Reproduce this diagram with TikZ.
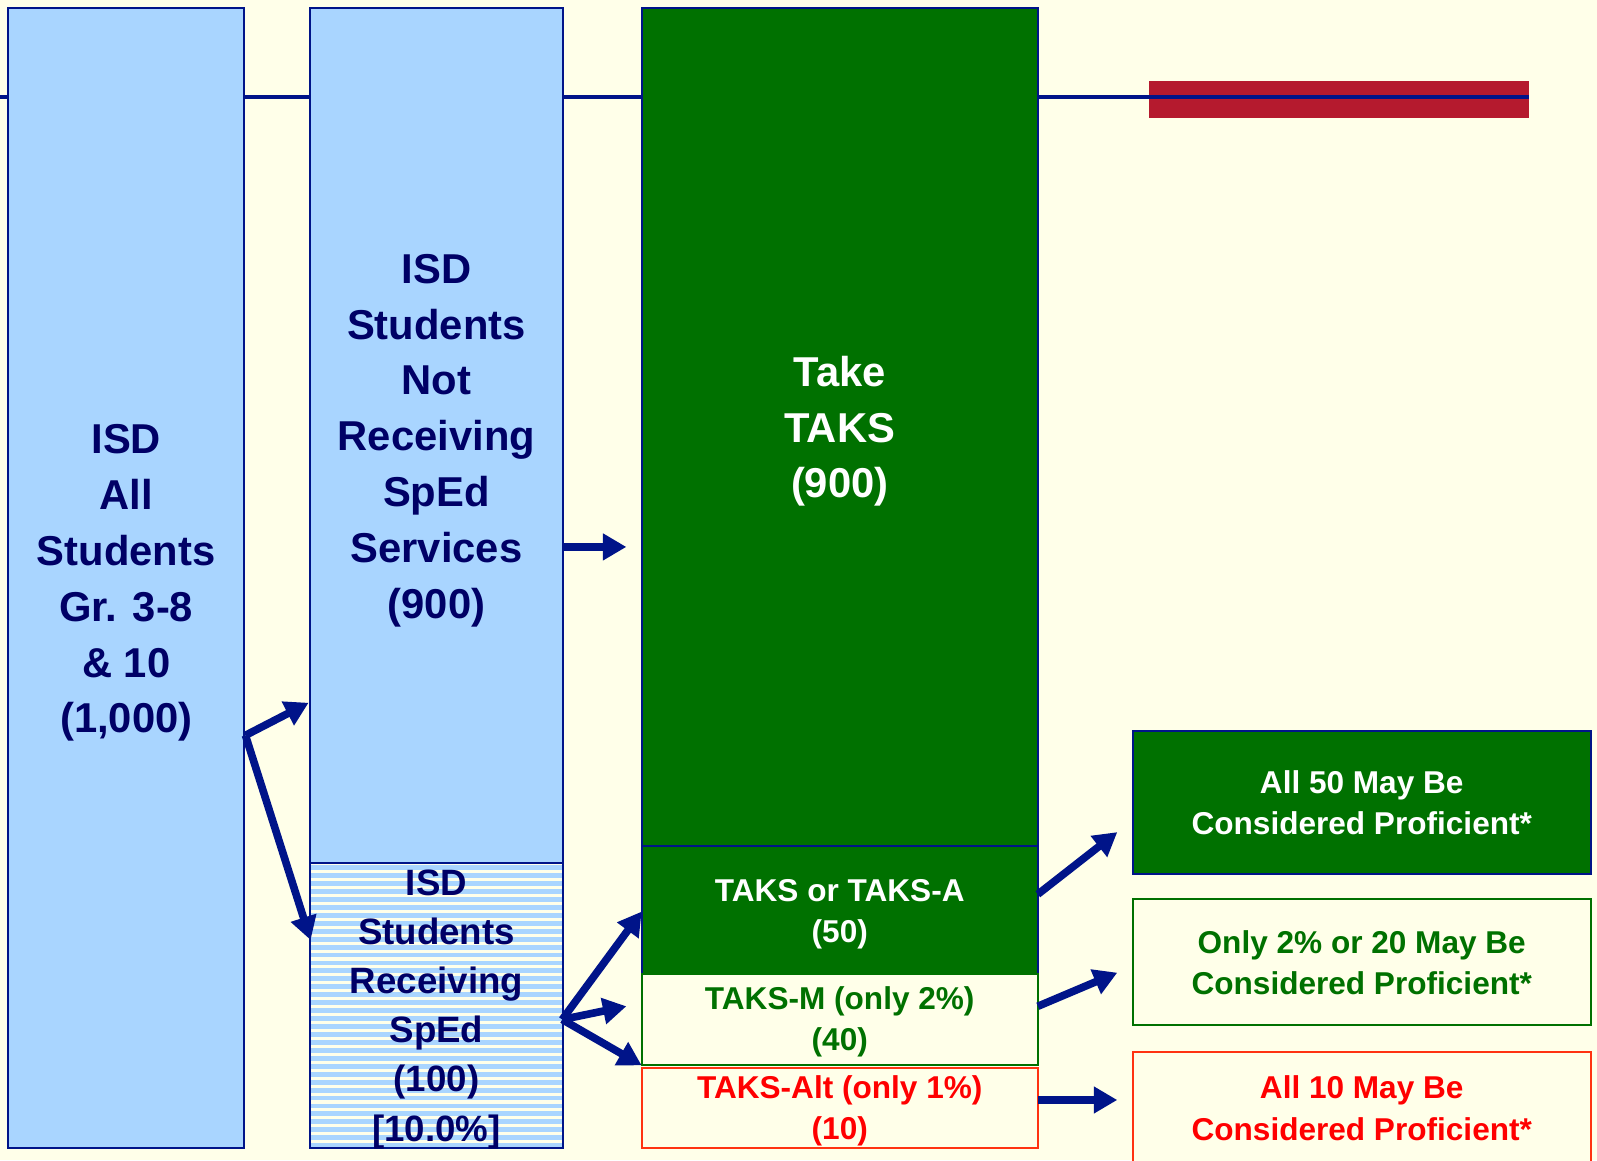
\documentclass[tikz,border=0pt]{standalone}
\usepackage{fontspec}
\setmainfont{Liberation Sans}
\usetikzlibrary{arrows.meta}
\definecolor{bg}{RGB}{255,255,233}
\definecolor{lblue}{RGB}{169,213,255}
\definecolor{navy}{RGB}{0,20,137}
\definecolor{navytext}{RGB}{0,0,102}
\definecolor{dgreen}{RGB}{0,113,0}
\definecolor{redbar}{RGB}{181,26,46}
\definecolor{redtext}{RGB}{255,0,0}
\definecolor{redline}{RGB}{255,51,17}
\begin{document}
\begin{tikzpicture}[x=1pt,y=-1pt,
  box/.style={rectangle, inner sep=0pt, outer sep=0pt, line width=2pt},
  txt/.style={inner sep=0pt, align=center},
  bigtxt/.style={txt, font=\bfseries\fontsize{41}{54.8}\selectfont},
  midtxt/.style={txt, font=\bfseries\fontsize{36}{48.2}\selectfont},
  smalltxt/.style={txt, font=\bfseries\fontsize{31}{40.5}\selectfont},
  arr/.style={draw=navy, line width=7.5pt, -{Triangle[length=23pt,width=25pt]}}
]
\clip (0,0) rectangle (1568,1139);
\useasboundingbox (0,0) rectangle (1568,1139);
\fill[bg] (0,0) rectangle (1568,1139);
% red bar and top line
\fill[redbar] (1128,80) rectangle (1501,116);
\draw[navy, line width=4pt] (0,95) -- (1501,95);
% left boxes
\node[box, draw=navy, fill=lblue, minimum width=232, minimum height=1119] (b1) at (124,567.5) {};
\node[bigtxt, text=navytext] (b1t) at ([yshift=-5pt]b1.center)
  {ISD\\All\\Students\\Gr. 3-8\\\& 10\\(1,000)};
\node[box, draw=navy, fill=lblue, minimum width=249, minimum height=839] (b2) at (428.5,427.5) {};
\node[bigtxt, text=navytext] (b2t) at ([yshift=-5pt]b2.center)
  {ISD\\Students\\Not\\Receiving\\SpEd\\Services\\(900)};
\node[box, draw=navy, fill=bg, minimum width=249, minimum height=280,
  path picture={
    \foreach \k in {0,...,36}{
      \fill[lblue] ([yshift={-(\k*7.8+2.5)*1pt}]path picture bounding box.north west)
        rectangle ([yshift={-(\k*7.8+7.3)*1pt}]path picture bounding box.north east);
    }
  }] (sb) at (428.5,987) {};
\node[midtxt, text=navytext] (sbt) at ([yshift=-4pt]sb.center)
  {ISD\\Students\\Receiving\\SpEd\\(100)\\{[}10.0\%{]}};
% middle column
\node[box, draw=navy, fill=dgreen, minimum width=389, minimum height=823] (tk) at (824.5,419.5) {};
\node[bigtxt, text=white] (tkt) at ([yshift=-4pt]tk.center) {Take\\TAKS\\(900)};
\node[box, draw=navy, fill=dgreen, minimum width=389, minimum height=125] (ta) at (824.5,893.5) {};
\node[smalltxt, text=white] (tat) at ([yshift=-4pt]ta.center) {TAKS or TAKS-A\\(50)};
\node[box, draw=dgreen, fill=bg, minimum width=389, minimum height=90] (tm) at (824.5,1001) {};
\node[smalltxt, text=dgreen] (tmt) at ([yshift=-2pt]tm.center) {TAKS-M (only 2\%)\\(40)};
\node[box, draw=redline, fill=bg, minimum width=389, minimum height=78] (tl) at (824.5,1088) {};
\node[smalltxt, text=redtext] (tlt) at ([yshift=-3pt]tl.center) {TAKS-Alt (only 1\%)\\(10)};
% right column
\node[box, draw=navy, fill=dgreen, minimum width=450, minimum height=140] (ra) at (1337,788) {};
\node[smalltxt, text=white] (rat) at (ra.center) {All 50 May Be\\Considered Proficient*};
\node[box, draw=dgreen, fill=bg, minimum width=450, minimum height=123] (rb) at (1337,944.5) {};
\node[smalltxt, text=dgreen] (rbt) at ([yshift=-1pt]rb.center) {Only 2\% or 20 May Be\\Considered Proficient*};
\node[box, draw=redline, fill=bg, minimum width=450, minimum height=140] (rc) at (1337,1103) {};
\node[smalltxt, text=redtext] (rct) at (1337,1088) {All 10 May Be\\Considered Proficient*};
% arrow coordinates
\coordinate (s1) at (241,722);
\coordinate (e1) at (303,690);
\coordinate (e2) at (305,923);
\coordinate (s3) at (553,537);
\coordinate (e3) at (615,537);
\coordinate (s4) at (552,1001);
\coordinate (e4) at (630,895);
\coordinate (e5) at (615,988);
\coordinate (e6) at (630,1046);
\coordinate (s7) at (1019,878);
\coordinate (e7) at (1097,817);
\coordinate (s8) at (1019,988);
\coordinate (e8) at (1097,955);
\coordinate (s9) at (1019,1080);
\coordinate (e9) at (1097,1080);
\draw[arr] (s1) -- (e1);
\draw[arr] (s1) -- (e2);
\draw[arr] (s3) -- (e3);
\draw[arr] (s4) -- (e4);
\draw[arr] (s4) -- (e5);
\draw[arr] (s4) -- (e6);
\draw[arr] (s7) -- (e7);
\draw[arr] (s8) -- (e8);
\draw[arr] (s9) -- (e9);
\end{tikzpicture}
\end{document}
